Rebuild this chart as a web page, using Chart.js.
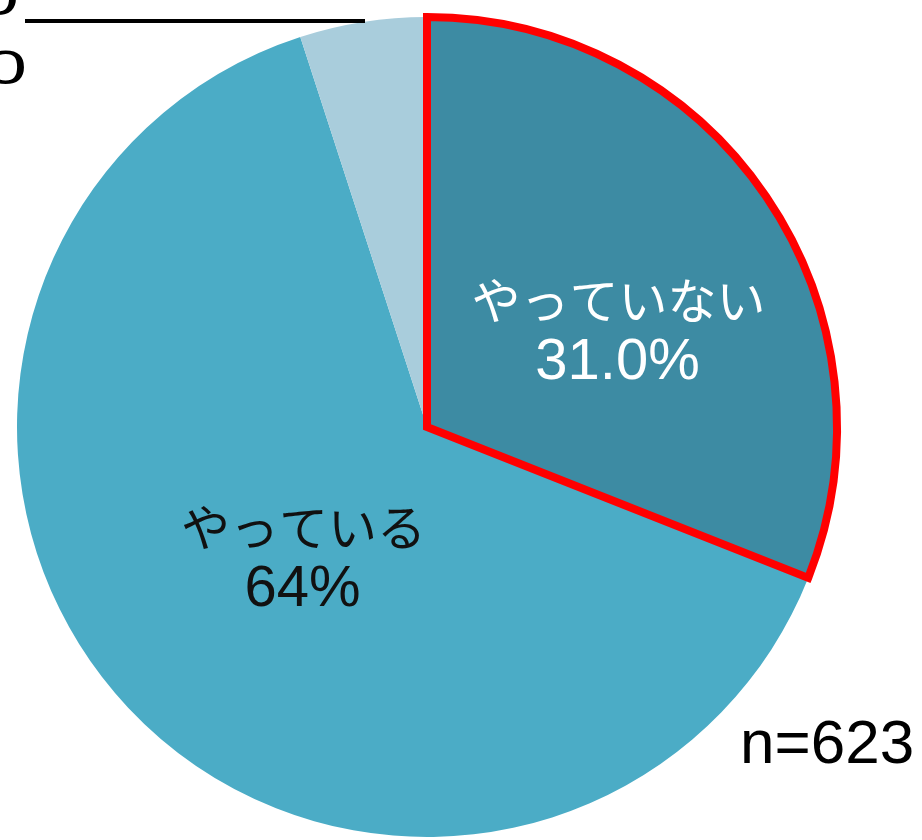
<!DOCTYPE html>
<html>
<head>
<meta charset="utf-8">
<script src="https://cdn.jsdelivr.net/npm/chart.js@4.4.0/dist/chart.umd.min.js"></script>
<style>
  html, body { margin: 0; padding: 0; background: #fff; }
  #wrap { width: 922px; height: 840px; }
</style>
</head>
<body>
<div id="wrap"><canvas id="pieChart"></canvas></div>
<script>
// slice order is chosen so the outlined slice is drawn last
const categories = ["やっている", "その他", "やっていない"];
const values = [64, 5, 31];
const pctLabels = ["64%", "5.0", "31.0%"];
const sampleLabel = "n=623";

const colors = ["#4BACC6", "#A9CDDC", "#3D8BA3"];
const borderColors = ["#4BACC6", "#A9CDDC", "#FF0000"];
const borderWidths = [0, 0, 8];

const total = values.reduce((a, b) => a + b, 0);
// start the last slice at 12 o'clock
const rotation = (values[2] / total) * 360;

const ctx = document.getElementById("pieChart").getContext("2d");

new Chart(ctx, {
  type: "pie",
  data: {
    labels: categories,
    datasets: [
      {
        data: values,
        backgroundColor: colors,
        borderColor: borderColors,
        borderWidth: borderWidths,
        borderJoinStyle: "miter",
      },
    ],
  },
  options: {
    responsive: true,
    maintainAspectRatio: false,
    animation: false,
    rotation: rotation,
    radius: 410,
    layout: { padding: { left: 17, right: 85, top: 17, bottom: 3 } },
    plugins: {
      legend: { display: false },
      tooltip: { enabled: false },
    },
  },
  plugins: [
    {
      id: "sliceText",
      afterDatasetsDraw(chart) {
        const ctx = chart.ctx;
        const arcs = chart.getDatasetMeta(0).data;
        const kana = "49px 'Noto Sans CJK JP', sans-serif";
        const num = "58px 'Liberation Sans', Arial, sans-serif";
        ctx.save();
        ctx.textAlign = "center";
        ctx.textBaseline = "middle";

        // やっていない
        let p = arcs[2].getCenterPoint();
        ctx.fillStyle = "#ffffff";
        ctx.font = kana;
        ctx.fillText(categories[2], p.x + 22, p.y - 11);
        ctx.font = num;
        ctx.fillText(pctLabels[2], p.x + 21, p.y + 51);

        // やっている
        p = arcs[0].getCenterPoint();
        ctx.fillStyle = "#111111";
        ctx.font = kana;
        ctx.fillText(categories[0], p.x + 26, p.y - 40);
        ctx.font = num;
        ctx.fillText(pctLabels[0], p.x + 25, p.y + 23);

        // outside label of the small slice (mostly off the left edge)
        ctx.save();
        ctx.textAlign = "right";
        ctx.fillStyle = "#000000";
        ctx.font = "48px 'Liberation Sans', Arial, sans-serif";
        ctx.scale(1.6, 1);
        ctx.fillText(pctLabels[1], 19 / 1.6, 2);
        ctx.fillText(pctLabels[1], 27 / 1.6, 71);
        ctx.restore();
        ctx.strokeStyle = "#000000";
        ctx.lineWidth = 4;
        ctx.beginPath();
        ctx.moveTo(25, 21);
        ctx.lineTo(365, 21);
        ctx.stroke();

        // sample size
        ctx.textAlign = "left";
        ctx.fillStyle = "#000000";
        ctx.font = "62px 'Liberation Sans', Arial, sans-serif";
        ctx.fillText(sampleLabel, 740, 746);
        ctx.restore();
      },
    },
  ],
});
</script>
</body>
</html>
